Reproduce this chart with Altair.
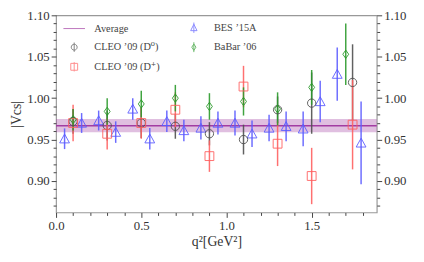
import altair as alt
import pandas as pd

# ---------------- data ----------------
avg_value = 0.9667
avg_err = 0.008
x_range = [0.0, 1.882]
y_range = [0.862, 1.10]

cleo_d0_x = [0.1, 0.3, 0.5, 0.7, 0.9, 1.1, 1.3, 1.5, 1.74]
cleo_d0_y = [0.972, 0.967, 0.970, 0.966, 0.957, 0.950, 0.986, 0.994, 1.019]
cleo_d0_e = [0.015, 0.018, 0.018, 0.015, 0.014, 0.018, 0.016, 0.037, 0.046]

cleo_dp_x = [0.1, 0.3, 0.5, 0.7, 0.9, 1.1, 1.3, 1.5, 1.74]
cleo_dp_y = [0.970, 0.957, 0.970, 0.986, 0.930, 1.014, 0.945, 0.906, 0.968]
cleo_dp_e = [0.022, 0.019, 0.019, 0.021, 0.019, 0.025, 0.027, 0.034, 0.054]

babar_x = [0.1, 0.3, 0.5, 0.7, 0.9, 1.1, 1.3, 1.5, 1.7]
babar_y = [0.974, 0.984, 0.993, 1.000, 0.990, 0.996, 0.987, 1.013, 1.053]
babar_e = [0.013, 0.016, 0.016, 0.016, 0.016, 0.017, 0.020, 0.021, 0.037]

bes_x = [0.05, 0.15, 0.25, 0.35, 0.45, 0.55, 0.65, 0.75, 0.85, 0.95,
         1.05, 1.15, 1.25, 1.35, 1.45, 1.55, 1.65, 1.79]
bes_y = [0.951, 0.970, 0.973, 0.959, 0.987, 0.951, 0.972, 0.961, 0.964, 0.970,
         0.970, 0.957, 0.964, 0.966, 0.963, 0.996, 1.029, 0.946]
bes_e = [0.0125, 0.012, 0.012, 0.013, 0.013, 0.013, 0.013, 0.013, 0.014, 0.014,
         0.015, 0.016, 0.016, 0.018, 0.021, 0.025, 0.032, 0.050]

names = ["Average", "CLEO ’09 (D⁰)", "CLEO ’09 (D⁺)", "BES ’15A", "BaBar ’06"]
colors = ["#a23ca2", "#505050", "#ff6060", "#5c5cff", "#2b9a2b"]

y_ticks = [round(0.87 + 0.01 * i, 2) for i in range(24)]
x_ticks = [round(0.1 * i, 1) for i in range(19)]

FONT = "Liberation Serif, DejaVu Serif, serif"

# ---------------- tables ----------------
rows = []
for name, xs, ys, es in [
    (names[3], bes_x, bes_y, bes_e),
    (names[1], cleo_d0_x, cleo_d0_y, cleo_d0_e),
    (names[2], cleo_dp_x, cleo_dp_y, cleo_dp_e),
    (names[4], babar_x, babar_y, babar_e),
]:
    for x, y, e in zip(xs, ys, es):
        rows.append({"series": name, "x": x, "y": y, "lo": y - e, "hi": y + e})
pts = pd.DataFrame(rows)

avg_df = pd.DataFrame([{"x0": x_range[0], "x1": x_range[1], "avg": avg_value,
                        "lo": avg_value - avg_err, "hi": avg_value + avg_err}])

# marker shapes (data) and legend shapes (marker + error bar)
marker_paths = [
    "M-1,0L1,0",
    "M-0.85,0A0.85,0.85,0,1,1,0.85,0A0.85,0.85,0,1,1,-0.85,0Z",
    "M-0.9,-0.9L0.9,-0.9L0.9,0.9L-0.9,0.9Z",
    "M0,-0.95L1,0.85L-1,0.85Z",
    "M0,-0.85L0.6,0L0,0.85L-0.6,0Z",
]
legend_paths = [
    "M-2.2,0L2.2,0",
    "M-0.6,0A0.6,0.6,0,1,1,0.6,0A0.6,0.6,0,1,1,-0.6,0ZM0,-0.95L0,0.95",
    "M-0.7,-0.7L0.7,-0.7L0.7,0.7L-0.7,0.7ZM0,-0.95L0,0.95",
    "M0,-0.7L0.65,0.6L-0.65,0.6ZM0,-1.05L0,1.05",
    "M0,-0.65L0.42,0L0,0.65L-0.42,0ZM0,-1L0,1",
]

# ---------------- scales / axes ----------------
xs = alt.Scale(domain=x_range, nice=False, zero=False)
ys = alt.Scale(domain=y_range, nice=False, zero=False)
cs = alt.Scale(domain=names, range=colors)

x_axis = alt.Axis(
    values=x_ticks, title="q²[GeV²]",
    labelExpr="round(datum.value*10) % 5 == 0 ? format(datum.value, '.1f') : ''",
    tickSize={"condition": {"test": "round(datum.value*10) % 5 == 0", "value": 5}, "value": 3},
    labelPadding=2, titlePadding=3, labelOverlap=False, labelFlush=False,
)
ylab = "round(datum.value*100) % 5 == 0 ? format(datum.value, '.2f') : ''"
ytick = {"condition": {"test": "round(datum.value*100) % 5 == 0", "value": 5}, "value": 3}
y_axis_left = alt.Axis(orient="left", values=y_ticks, title="|Vcs|", labelExpr=ylab,
                       tickSize=ytick, labelPadding=2, titlePadding=3,
                       labelOverlap=False, labelFlush=False)
y_axis_right = alt.Axis(orient="right", values=y_ticks, title=None, labelExpr=ylab,
                        tickSize=ytick, labelPadding=2,
                        labelOverlap=False, labelFlush=False)

X = alt.X("x0:Q", scale=xs, axis=x_axis)

band = alt.Chart(avg_df).mark_rect(color="#a23ca2", opacity=0.33).encode(
    x=X, x2="x1:Q",
    y=alt.Y("lo:Q", scale=ys, axis=y_axis_left), y2="hi:Q",
)
avg_line = alt.Chart(avg_df).mark_rule(color="#a23ca2", strokeWidth=1.5).encode(
    x=X, x2="x1:Q",
    y=alt.Y("avg:Q", scale=ys, axis=y_axis_right),
)

XP = alt.X("x:Q", scale=xs, axis=x_axis)

errs = alt.Chart(pts).mark_rule(strokeWidth=1.5, opacity=0.9).encode(
    x=XP,
    y=alt.Y("lo:Q", scale=ys, axis=None), y2="hi:Q",
    color=alt.Color("series:N", scale=cs, legend=None),
)
points = alt.Chart(pts).mark_point(filled=False, size=100, strokeWidth=1, opacity=0.9).encode(
    x=XP,
    y=alt.Y("y:Q", scale=ys, axis=None),
    color=alt.Color("series:N", scale=cs, legend=None),
    shape=alt.Shape("series:N", scale=alt.Scale(domain=names, range=marker_paths), legend=None),
)

leg = alt.Legend(
    title=None, orient="none", legendX=13, legendY=7, columns=2,
    symbolSize=100, symbolStrokeWidth=1, labelOffset=15,
    rowPadding=5, columnPadding=29, padding=0,
    labelFont=FONT, labelFontSize=10.5, labelColor="#444",
)
legend_layer = alt.Chart(pts).transform_filter("false").mark_point(
    filled=False, size=100, strokeWidth=1
).encode(
    x=XP,
    y=alt.Y("y:Q", scale=ys, axis=None),
    color=alt.Color("series:N", scale=cs, legend=leg),
    shape=alt.Shape("series:N", scale=alt.Scale(domain=names, range=legend_paths), legend=leg),
)

chart = alt.layer(band, avg_line, errs, points, legend_layer).resolve_scale(
    color="independent", shape="independent"
).resolve_axis(y="independent").properties(
    width=327, height=201,
    autosize=alt.AutoSizeParams(type="none"),
    padding={"left": 49, "top": 5, "right": 40, "bottom": 45},
).configure_view(
    stroke="#999999", strokeWidth=1.2
).configure_axis(
    labelFont=FONT, labelFontSize=13, labelColor="#333333",
    titleFont=FONT, titleFontSize=14, titleFontWeight="normal",
    titleColor="#333333", tickColor="#444444", domain=False, grid=False,
)

chart.save("out.html", embed_options={"renderer": "svg", "actions": False})
